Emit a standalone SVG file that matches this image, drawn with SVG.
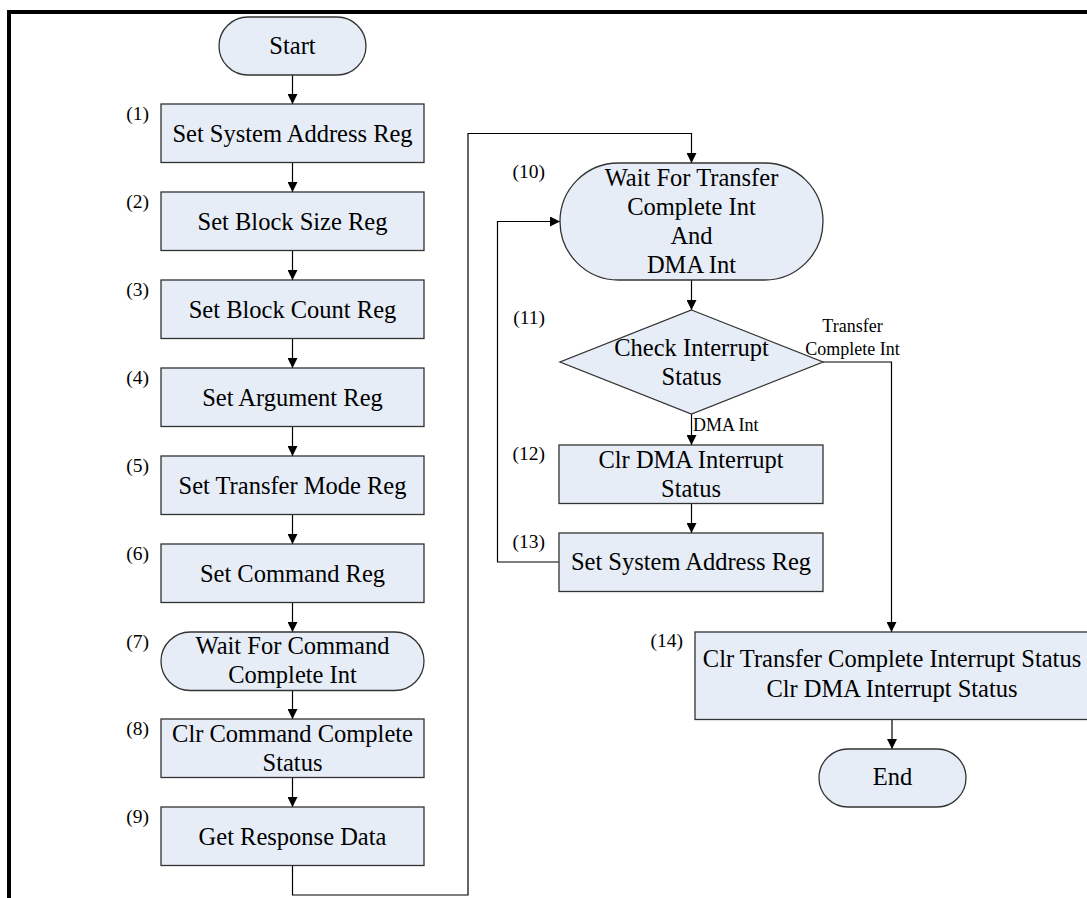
<svg xmlns="http://www.w3.org/2000/svg" width="1087" height="898" viewBox="0 0 1087 898">
<defs>
<marker id="arr" markerUnits="userSpaceOnUse" markerWidth="10" markerHeight="10" refX="10" refY="5" orient="auto">
<path d="M0,0 L10,5 L0,10 Z" fill="#000"/>
</marker>
<style>
.shape{fill:#E6EDF7;stroke:#333;stroke-width:1.3}
.t{font-family:"Liberation Serif","Times New Roman",serif;font-size:24.5px;fill:#000;text-anchor:middle}
.n{font-family:"Liberation Serif","Times New Roman",serif;font-size:19.5px;fill:#000;text-anchor:end}
.s{font-family:"Liberation Serif","Times New Roman",serif;font-size:18px;fill:#000}
.c{fill:none;stroke:#000;stroke-width:1.2}
</style>
</defs>
<rect width="1087" height="898" fill="#fff"/>
<rect x="9" y="12" width="1200" height="1000" fill="none" stroke="#000" stroke-width="4"/>

<g id="connectors">
<path class="c" d="M292.5,75 V104" marker-end="url(#arr)"/>
<path class="c" d="M292.5,162.5 V192" marker-end="url(#arr)"/>
<path class="c" d="M292.5,250.5 V280" marker-end="url(#arr)"/>
<path class="c" d="M292.5,338.5 V368" marker-end="url(#arr)"/>
<path class="c" d="M292.5,426.5 V456" marker-end="url(#arr)"/>
<path class="c" d="M292.5,514.5 V544" marker-end="url(#arr)"/>
<path class="c" d="M292.5,602.5 V632" marker-end="url(#arr)"/>
<path class="c" d="M292.5,690.5 V719" marker-end="url(#arr)"/>
<path class="c" d="M292.5,777.5 V807" marker-end="url(#arr)"/>
<path class="c" d="M292.5,865.5 V895 H468 V133.5 H691.5 V163" marker-end="url(#arr)"/>
<path class="c" d="M691.5,280 V310" marker-end="url(#arr)"/>
<path class="c" d="M691.5,414 V445" marker-end="url(#arr)"/>
<path class="c" d="M691.5,503.5 V533" marker-end="url(#arr)"/>
<path class="c" d="M559,562 H497.5 V221.5 H560" marker-end="url(#arr)"/>
<path class="c" d="M823,362 H891.5 V632" marker-end="url(#arr)"/>
<path class="c" d="M892,719.5 V749" marker-end="url(#arr)"/>
<text class="s" x="852.5" y="332" text-anchor="middle" font-size="17.5">Transfer</text>
<text class="s" x="852.5" y="355" text-anchor="middle" font-size="17.5">Complete Int</text>
<text class="s" x="693" y="431">DMA Int</text>
</g>

<g id="start">
<rect class="shape" x="219" y="17" width="147" height="58" rx="29"/>
<text class="t" x="292.5" y="54">Start</text>
</g>
<g id="n1">
<rect class="shape" x="161" y="104" width="263" height="58.5"/>
<text class="n" x="149" y="120">(1)</text>
<text class="t" x="292.5" y="141.5">Set System Address Reg</text>
</g>
<g id="n2">
<rect class="shape" x="161" y="192" width="263" height="58.5"/>
<text class="n" x="149" y="208">(2)</text>
<text class="t" x="292.5" y="229.5">Set Block Size Reg</text>
</g>
<g id="n3">
<rect class="shape" x="161" y="280" width="263" height="58.5"/>
<text class="n" x="149" y="296">(3)</text>
<text class="t" x="292.5" y="317.5">Set Block Count Reg</text>
</g>
<g id="n4">
<rect class="shape" x="161" y="368" width="263" height="58.5"/>
<text class="n" x="149" y="384">(4)</text>
<text class="t" x="292.5" y="405.5">Set Argument Reg</text>
</g>
<g id="n5">
<rect class="shape" x="161" y="456" width="263" height="58.5"/>
<text class="n" x="149" y="472">(5)</text>
<text class="t" x="292.5" y="493.5">Set Transfer Mode Reg</text>
</g>
<g id="n6">
<rect class="shape" x="161" y="544" width="263" height="58.5"/>
<text class="n" x="149" y="560">(6)</text>
<text class="t" x="292.5" y="581.5">Set Command Reg</text>
</g>
<g id="n7">
<rect class="shape" x="161" y="632" width="263" height="58.5" rx="29.25"/>
<text class="n" x="149" y="648">(7)</text>
<text class="t" x="292.5" y="654">Wait For Command</text>
<text class="t" x="292.5" y="683">Complete Int</text>
</g>
<g id="n8">
<rect class="shape" x="161" y="719" width="263" height="58.5"/>
<text class="n" x="149" y="735">(8)</text>
<text class="t" x="292.5" y="742">Clr Command Complete</text>
<text class="t" x="292.5" y="771">Status</text>
</g>
<g id="n9">
<rect class="shape" x="161" y="807" width="263" height="58.5"/>
<text class="n" x="149" y="823">(9)</text>
<text class="t" x="292.5" y="844.5">Get Response Data</text>
</g>
<g id="n10">
<rect class="shape" x="560" y="163" width="263" height="117" rx="58.5"/>
<text class="n" x="545" y="178">(10)</text>
<text class="t" x="691.5" y="186">Wait For Transfer</text>
<text class="t" x="691.5" y="215">Complete Int</text>
<text class="t" x="691.5" y="244">And</text>
<text class="t" x="691.5" y="273">DMA Int</text>
</g>
<g id="n11">
<polygon class="shape" points="691.5,310 823,362 691.5,414 560,362"/>
<text class="n" x="545" y="324">(11)</text>
<text class="t" x="691.5" y="355.5">Check Interrupt</text>
<text class="t" x="691.5" y="384.5">Status</text>
</g>
<g id="n12">
<rect class="shape" x="559" y="445" width="264" height="58.5"/>
<text class="n" x="545" y="460">(12)</text>
<text class="t" x="691" y="467.5">Clr DMA Interrupt</text>
<text class="t" x="691" y="496.5">Status</text>
</g>
<g id="n13">
<rect class="shape" x="559" y="533" width="264" height="58.5"/>
<text class="n" x="545" y="548">(13)</text>
<text class="t" x="691" y="570">Set System Address Reg</text>
</g>
<g id="n14">
<rect class="shape" x="695" y="632" width="394" height="87.5"/>
<text class="n" x="683" y="647">(14)</text>
<text class="t" x="892" y="667">Clr Transfer Complete Interrupt Status</text>
<text class="t" x="892" y="697">Clr DMA Interrupt Status</text>
</g>
<g id="end">
<rect class="shape" x="819" y="749" width="147" height="58" rx="29"/>
<text class="t" x="892.5" y="785">End</text>
</g>
</svg>
